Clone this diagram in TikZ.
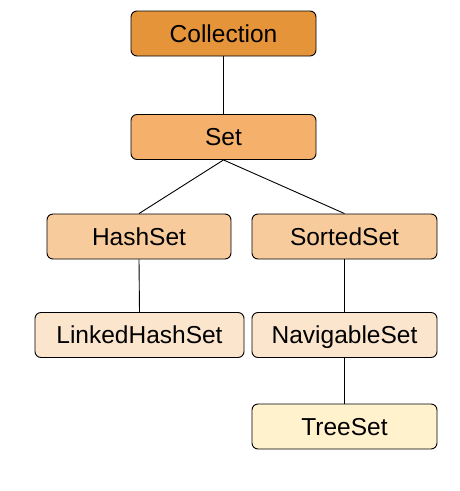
\documentclass[tikz,border=0pt]{standalone}
\usepackage{fontspec}
\setmainfont{Liberation Sans}
\definecolor{c1}{HTML}{E6943A}
\definecolor{c2}{HTML}{F5B06C}
\definecolor{c3}{HTML}{F8CB9C}
\definecolor{c4}{HTML}{FCE5CD}
\definecolor{c5}{HTML}{FFF2CC}
\begin{document}
\begin{tikzpicture}[x=1pt,y=-1pt,
  box/.style={draw=black, line width=0.9pt, rounded corners=6pt, minimum height=45pt, inner sep=0pt, text height=17.6pt, text depth=0pt, font=\fontsize{24.5}{28}\selectfont},
  link/.style={draw=black, line width=0.9pt}]
\useasboundingbox (0,0) rectangle (460,491);
\node[box, fill=c1, minimum width=185pt] (coll) at (223.5,33.5) {Collection};
\node[box, fill=c2, minimum width=185pt] (set) at (223.5,137) {Set};
\node[box, fill=c3, minimum width=184pt] (hash) at (139,236.5) {HashSet};
\node[box, fill=c3, minimum width=185pt] (sorted) at (344.5,236.5) {SortedSet};
\node[box, fill=c4, minimum width=209pt] (linked) at (139.5,335) {LinkedHashSet};
\node[box, fill=c4, minimum width=185pt] (nav) at (344.5,335) {NavigableSet};
\node[box, fill=c5, minimum width=185pt] (tree) at (344.5,426.5) {TreeSet};
\draw[link] (coll.south) -- (set.north);
\draw[link] (set.south) -- (hash.north);
\draw[link] (set.south) -- (sorted.north);
\draw[link] (hash.south) -- (linked.north);
\draw[link] (sorted.south) -- (nav.north);
\draw[link] (nav.south) -- (tree.north);
\end{tikzpicture}
\end{document}
